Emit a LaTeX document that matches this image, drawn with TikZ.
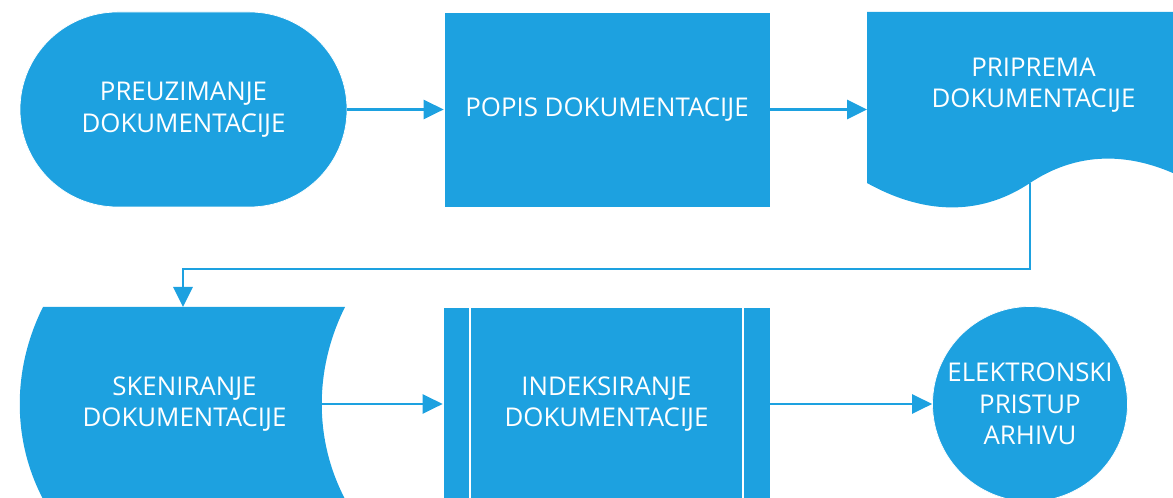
\documentclass[tikz,border=0pt]{standalone}
\usepackage{fontspec}
\setmainfont{Open Sans}
\usetikzlibrary{arrows.meta}
\definecolor{tokplava}{RGB}{29,161,224}
\tikzset{
  korak/.style={fill=tokplava, draw=white, line width=0.4pt, text=white, align=center,
    font=\fontsize{14.7pt}{18pt}\selectfont, inner sep=0pt},
  tekst/.style={text=white, align=center, font=\fontsize{14.7pt}{18pt}\selectfont},
  tok/.style={draw=tokplava, line width=1.6pt, -{Triangle[length=0.4cm,width=0.38cm]}}
}
\begin{document}
\begin{tikzpicture}
\useasboundingbox (0,0) rectangle (23.46,9.96);
\clip (0,0) rectangle (23.46,9.96);

% gornji red
\node [korak, rounded corners=1.95cm, minimum width=6.54cm, minimum height=3.9cm] (preuz) at (3.67,7.77) {PREUZIMANJE\\DOKUMENTACIJE};
\node [korak, minimum width=6.52cm, minimum height=3.9cm] (popis) at (12.14,7.77) {POPIS DOKUMENTACIJE};
\fill [tokplava] (17.34,9.72) -- (23.86,9.72) -- (23.86,6.30) .. controls (22.6,7.0) and (21.5,6.9) .. (20.60,6.30)
      .. controls (19.7,5.7) and (18.6,5.6) .. (17.34,6.30) -- cycle;
\node [tekst] (pripr) at (20.67,8.26) {PRIPREMA\\DOKUMENTACIJE};
\coordinate (priprL) at (17.34,7.77);
\coordinate (priprB) at (20.60,6.30);

% donji red
\fill [tokplava] (0.86,3.82) -- (6.90,3.82) .. controls (6.28,2.58) and (6.28,1.16) .. (6.90,-0.02)
      -- (0.86,-0.02) .. controls (0.24,1.16) and (0.24,2.58) .. cycle;
\node [tekst] (sken) at (3.69,1.88) {SKENIRANJE\\DOKUMENTACIJE};
\coordinate (skenT) at (3.66,3.82);
\coordinate (skenR) at (6.43,1.88);
\node [korak, minimum width=6.54cm, minimum height=3.88cm] (indeks) at (12.13,1.88) {INDEKSIRANJE\\DOKUMENTACIJE};
\draw [white, line width=1.2pt] ([xshift=0.54cm]indeks.north west) -- ([xshift=0.54cm]indeks.south west);
\draw [white, line width=1.2pt] ([xshift=-0.54cm]indeks.north east) -- ([xshift=-0.54cm]indeks.south east);
\node [korak, circle, minimum size=3.9cm] (arhiv) at (20.60,1.88) {ELEKTRONSKI\\PRISTUP\\ARHIVU};

% veze
\coordinate (skret) at (20.60,4.58);
\draw [tok] (preuz.east) -- (popis.west);
\draw [tok] (popis.east) -- (priprL);
\draw [tok] (priprB) -- (skret) -| (skenT);
\draw [tok] (skenR) -- (indeks.west);
\draw [tok] (indeks.east) -- (arhiv.west);
\end{tikzpicture}
\end{document}
